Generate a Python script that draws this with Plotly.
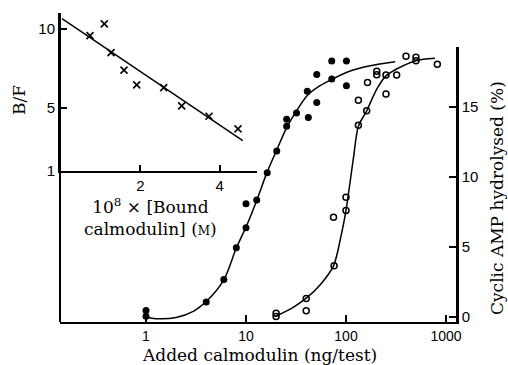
import plotly.graph_objects as go

# ---- Main plot data: activity vs added calmodulin ----
filled_x = [1, 1, 4, 6, 8, 10, 10, 12.8, 16.3, 20.3, 25.5, 25.5, 32, 42, 41, 51, 51, 72, 72, 101, 101]
filled_y = [0.45, 0.03, 1.05, 2.65, 4.93, 6.36, 8.06, 8.34, 10.28, 11.83, 13.6, 14.1, 14.55, 14.22,
            16.1, 15.3, 17.3, 18.26, 16.97, 18.26, 16.49]

open_x = [20, 20, 40, 40, 75, 76, 100, 100, 133, 161, 133, 164, 203, 203, 251, 251, 321, 398, 501, 501, 819]
open_y = [0.24, 0.02, 1.3, 0.43, 7.1, 3.63, 8.53, 7.58, 13.67, 14.7, 15.46, 16.73, 17.52, 17.28,
          17.26, 15.9, 17.26, 18.6, 18.52, 18.28, 18.02]

# fitted curves
filled_curve_x = [1.0, 1.25, 2.0, 3.0, 4.0, 6.0, 8.0, 10, 12.8, 16, 20, 25.5, 32, 41, 55, 72, 110, 175, 310]
filled_curve_y = [-0.04, -0.14, -0.06, 0.4, 1.08, 2.63, 4.9, 6.4, 8.3, 10.2, 11.8, 13.5, 14.7, 15.8,
                  16.5, 16.95, 17.55, 17.92, 18.2]

open_curve_x = [20, 28.6, 40, 55, 75, 90, 100, 118, 133, 161, 203, 251, 321, 501, 776]
open_curve_y = [0.05, 0.6, 1.32, 2.27, 3.63, 5.9, 7.6, 11.2, 13.6, 14.7, 16.25, 17.2, 17.69, 18.28, 18.45]

main_xticks = [1, 10, 100, 1000]
main_xticktext = ["1", "10", "100", "1000"]
main_yticks = [0, 5, 10, 15]

# ---- Inset data: B/F vs bound calmodulin ----
inset_x = [0.727, 1.088, 1.257, 1.585, 1.905, 2.586, 3.04, 3.73, 4.46]
inset_y = [9.58, 10.32, 8.5, 7.39, 6.46, 6.28, 5.13, 4.47, 3.67]
inset_fit_x = [0.02, 4.58]
inset_fit_y = [10.65, 2.93]
inset_xticks = [2, 4]
inset_yticks = [1, 5, 10]

SANS = "Liberation Sans, Arial, sans-serif"
SERIF = "DejaVu Serif, Liberation Serif, serif"

fig = go.Figure()

fig.add_trace(go.Scatter(x=filled_curve_x, y=filled_curve_y, mode="lines",
                         line=dict(color="black", width=1.5, shape="spline", smoothing=0.8),
                         xaxis="x", yaxis="y", hoverinfo="skip"))
fig.add_trace(go.Scatter(x=open_curve_x, y=open_curve_y, mode="lines",
                         line=dict(color="black", width=1.5, shape="spline", smoothing=0.8),
                         xaxis="x", yaxis="y", hoverinfo="skip"))
fig.add_trace(go.Scatter(x=filled_x, y=filled_y, mode="markers",
                         marker=dict(symbol="circle", size=7, color="black"),
                         xaxis="x", yaxis="y"))
fig.add_trace(go.Scatter(x=open_x, y=open_y, mode="markers",
                         marker=dict(symbol="circle-open", size=6, color="black", line=dict(width=1.5)),
                         xaxis="x", yaxis="y"))

fig.add_trace(go.Scatter(x=inset_fit_x, y=inset_fit_y, mode="lines",
                         line=dict(color="black", width=1.5), xaxis="x2", yaxis="y3"))
fig.add_trace(go.Scatter(x=inset_x, y=inset_y, mode="markers",
                         marker=dict(symbol="x-thin", size=7, color="black", line=dict(width=1.6, color="black")),
                         xaxis="x2", yaxis="y3"))

W, H = 508, 365
L, R, T, B = 60, 52, 13, 43
pw, ph = W - L - R, H - T - B


def px(xp):
    return (xp - L) / pw


def py(yp):
    return (H - B - yp) / ph


fig.update_layout(
    width=W, height=H,
    margin=dict(l=L, r=R, t=T, b=B),
    paper_bgcolor="white", plot_bgcolor="rgba(0,0,0,0)",
    showlegend=False,
    xaxis=dict(type="log", range=[-0.86, 3.1], domain=[0, 1], anchor="y",
               showline=True, linewidth=2, linecolor="black", mirror=False,
               ticks="inside", ticklen=7, tickwidth=1.5, tickcolor="black",
               tickvals=main_xticks, ticktext=main_xticktext,
               tickfont=dict(family=SANS, size=14, color="black"),
               showgrid=False, zeroline=False),
    yaxis=dict(side="right", anchor="x", domain=[0, py(47)], range=[-0.38, 19.26],
               showline=True, linewidth=2.5, linecolor="black",
               ticks="inside", ticklen=7, tickwidth=1.5, tickcolor="black",
               tickvals=main_yticks, tickfont=dict(family=SANS, size=15, color="black"),
               showgrid=False, zeroline=False),
    xaxis2=dict(domain=[0, px(257)], anchor="y3", range=[-0.03, 4.94],
                showline=True, linewidth=2, linecolor="black",
                ticks="inside", ticklen=6, tickwidth=1.5, tickcolor="black",
                tickvals=inset_xticks, tickfont=dict(family=SANS, size=15, color="black"),
                showgrid=False, zeroline=False),
    yaxis3=dict(domain=[py(171), 1], anchor="x2", range=[1, 11.01],
                showline=True, linewidth=2, linecolor="black",
                ticks="inside", ticklen=7, tickwidth=1.5, tickcolor="black",
                tickvals=inset_yticks, tickfont=dict(family=SANS, size=15, color="black"),
                showgrid=False, zeroline=False),
    shapes=[dict(type="line", xref="paper", yref="paper", x0=0, x1=0, y0=0, y1=1,
                 line=dict(color="black", width=2))],
    annotations=[
        dict(text="Added calmodulin (ng/test)", xref="paper", yref="paper",
             x=px(259), y=py(355), xanchor="center", yanchor="middle", showarrow=False,
             font=dict(family=SERIF, size=17, color="black")),
        dict(text="Cyclic AMP hydrolysed (%)", xref="paper", yref="paper",
             x=px(497), y=py(198), xanchor="center", yanchor="middle", showarrow=False,
             textangle=-90, font=dict(family=SERIF, size=17, color="black")),
        dict(text="B/F", xref="paper", yref="paper",
             x=px(19), y=py(100), xanchor="center", yanchor="middle", showarrow=False,
             textangle=-90, font=dict(family=SERIF, size=17, color="black")),
        dict(text="10<sup>8</sup> × [Bound<br>calmodulin] (<span style='font-size:12px'>M</span>)",
             xref="paper", yref="paper", x=px(150), y=py(217), xanchor="center", yanchor="middle",
             showarrow=False, align="center", font=dict(family=SERIF, size=17, color="black")),
    ],
)

fig.write_html("out.html", config={"displayModeBar": False},
               post_script="document.body.style.margin='0';")
